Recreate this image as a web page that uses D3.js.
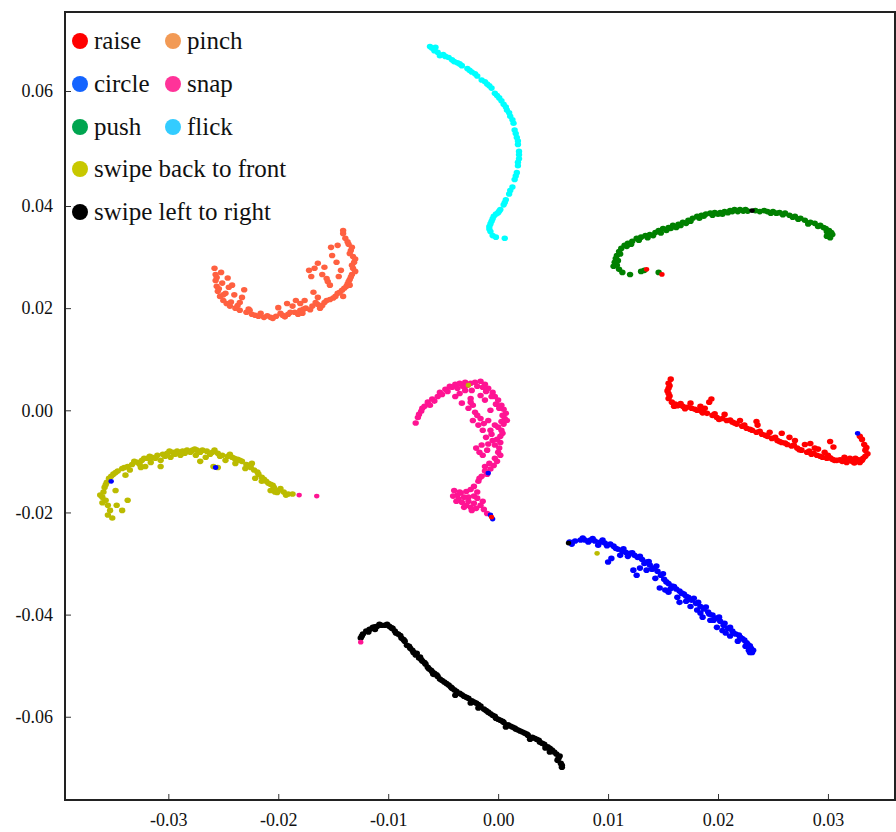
<!DOCTYPE html>
<html><head><meta charset="utf-8">
<script src="https://cdn.jsdelivr.net/npm/d3@7"></script>
<style>body{margin:0;background:#fff}svg{display:block}</style>
</head><body><svg id="c" width="896" height="832"></svg>
<script>
const xTicks = [-0.03,-0.02,-0.01,0.00,0.01,0.02,0.03];
const yTicks = [0.06,0.04,0.02,0.00,-0.02,-0.04,-0.06];
const legendNames = ["raise","pinch","circle","snap","push","flick","swipe back to front","swipe left to right"];
const legendColors = ["#ff0000","#f29a55","#1464ff","#ff3399","#00a550","#33ccff","#c8c800","#000000"];
const pointColors = ["#ff0000","#ff6040","#0000ff","#ff1493","#008000","#00ffff","#bbbb00","#000000"];

const raise = [[0.0157,0.0061],[0.0155,0.0053],[0.0155,0.0043],[0.0155,0.0033],[0.0155,0.0023],[0.0158,0.0016],[0.0161,0.0012],[0.0165,0.0010],[0.0168,0.0008],[0.0172,0.0006],[0.0176,0.0004],[0.0181,0.0000],[0.0185,-0.0002],[0.0190,-0.0006],[0.0195,-0.0010],[0.0199,-0.0014],[0.0204,-0.0016],[0.0208,-0.0020],[0.0213,-0.0023],[0.0217,-0.0027],[0.0222,-0.0031],[0.0226,-0.0035],[0.0231,-0.0039],[0.0235,-0.0043],[0.0240,-0.0047],[0.0245,-0.0051],[0.0249,-0.0055],[0.0254,-0.0059],[0.0258,-0.0063],[0.0263,-0.0067],[0.0267,-0.0070],[0.0272,-0.0074],[0.0276,-0.0078],[0.0281,-0.0082],[0.0285,-0.0086],[0.0290,-0.0088],[0.0295,-0.0092],[0.0299,-0.0094],[0.0304,-0.0096],[0.0308,-0.0098],[0.0313,-0.0100],[0.0317,-0.0102],[0.0322,-0.0100],[0.0326,-0.0100],[0.0331,-0.0098],[0.0334,-0.0090],[0.0334,-0.0078],[0.0333,-0.0067],[0.0331,-0.0057],[0.0329,-0.0051],
[0.0175,0.0014],[0.0184,0.0008],[0.0192,0.0016],[0.0194,0.0022],[0.0188,0.0004],[0.0206,-0.0008],[0.0220,-0.0020],[0.0235,-0.0022],[0.0236,-0.0029],[0.0247,-0.0043],[0.0258,-0.0045],[0.0265,-0.0053],[0.0270,-0.0059],[0.0279,-0.0067],[0.0284,-0.0065],[0.0288,-0.0074],[0.0291,-0.0076],[0.0297,-0.0082],[0.0302,-0.0061],[0.0305,-0.0072],[0.0300,-0.0088],[0.0315,-0.0092],[0.0320,-0.0094],[0.0325,-0.0094],[0.0329,-0.0102],
[0.0160,0.0008],[0.0170,0.0003],[0.0179,0.0002],[0.0186,-0.0005],[0.0197,-0.0007],[0.0201,-0.0018],[0.0211,-0.0019],[0.0215,-0.0025],[0.0224,-0.0029],[0.0229,-0.0037],[0.0238,-0.0041],[0.0243,-0.0049],[0.0252,-0.0053],[0.0256,-0.0061],[0.0261,-0.0064],[0.0269,-0.0068],[0.0274,-0.0077],[0.0283,-0.0080],[0.0287,-0.0084],[0.0293,-0.0090],[0.0302,-0.0093],[0.0306,-0.0098],[0.0311,-0.0097],[0.0318,-0.0099],[0.0324,-0.0103],[0.0328,-0.0097],[0.0332,-0.0094],[0.0336,-0.0085],[0.0335,-0.0073],[0.0156,0.0048],[0.0154,0.0038],[0.0156,0.0028],[0.0163,0.0009],[0.0166,0.0013]];

const pinch = [[-0.0258,0.0278],[-0.0257,0.0266],[-0.0257,0.0254],[-0.0256,0.0243],[-0.0255,0.0233],[-0.0253,0.0223],[-0.0250,0.0215],[-0.0247,0.0209],[-0.0244,0.0204],[-0.0239,0.0200],[-0.0235,0.0196],[-0.0229,0.0192],[-0.0224,0.0188],[-0.0218,0.0184],[-0.0213,0.0182],[-0.0207,0.0182],[-0.0202,0.0184],[-0.0196,0.0186],[-0.0191,0.0188],[-0.0185,0.0192],[-0.0180,0.0196],[-0.0175,0.0200],[-0.0169,0.0204],[-0.0164,0.0207],[-0.0158,0.0211],[-0.0153,0.0217],[-0.0148,0.0223],[-0.0144,0.0231],[-0.0140,0.0239],[-0.0137,0.0247],[-0.0135,0.0256],[-0.0133,0.0266],[-0.0132,0.0278],[-0.0131,0.0290],[-0.0132,0.0301],[-0.0134,0.0313],[-0.0136,0.0325],[-0.0139,0.0337],[-0.0141,0.0346],
[-0.0251,0.0249],[-0.0245,0.0241],[-0.0242,0.0245],[-0.0248,0.0229],[-0.0235,0.0211],[-0.0233,0.0221],[-0.0216,0.0190],[-0.0187,0.0204],[-0.0184,0.0215],[-0.0180,0.0209],[-0.0168,0.0231],[-0.0164,0.0221],[-0.0155,0.0252],[-0.0153,0.0245],[-0.0156,0.0258],[-0.0145,0.0262],[-0.0143,0.0274],[-0.0147,0.0290],[-0.0151,0.0303],[-0.0152,0.0319],[-0.0146,0.0323],[-0.0164,0.0288],[-0.0167,0.0278],[-0.0172,0.0274],[-0.0227,0.0198],[-0.0198,0.0190],[-0.0178,0.0190],[-0.0162,0.0200],[-0.0141,0.0223],[-0.0135,0.0245],
[-0.0256,0.0260],[-0.0254,0.0238],[-0.0250,0.0226],[-0.0243,0.0212],[-0.0237,0.0205],[-0.0226,0.0196],[-0.0221,0.0186],[-0.0210,0.0185],[-0.0205,0.0180],[-0.0194,0.0183],[-0.0189,0.0192],[-0.0182,0.0188],[-0.0177,0.0198],[-0.0171,0.0197],[-0.0166,0.0211],[-0.0160,0.0205],[-0.0156,0.0215],[-0.0150,0.0220],[-0.0146,0.0229],[-0.0142,0.0235],[-0.0138,0.0243],[-0.0136,0.0252],[-0.0134,0.0261],[-0.0130,0.0272],[-0.0133,0.0284],[-0.0130,0.0296],[-0.0135,0.0307],[-0.0133,0.0319],[-0.0137,0.0330],[-0.0141,0.0352],[-0.0160,0.0266],[-0.0158,0.0280],[-0.0170,0.0262],[-0.0176,0.0215],[-0.0192,0.0209],[-0.0200,0.0201],[-0.0231,0.0236],[-0.0240,0.0226],[-0.0246,0.0259],[-0.0252,0.0270]];

const circle = [[0.0065,-0.0258],[0.0070,-0.0256],[0.0075,-0.0254],[0.0079,-0.0254],[0.0084,-0.0254],[0.0088,-0.0256],[0.0093,-0.0258],[0.0097,-0.0260],[0.0102,-0.0262],[0.0105,-0.0266],[0.0109,-0.0272],[0.0113,-0.0276],[0.0116,-0.0278],[0.0120,-0.0280],[0.0124,-0.0284],[0.0127,-0.0288],[0.0131,-0.0292],[0.0135,-0.0297],[0.0138,-0.0303],[0.0142,-0.0309],[0.0145,-0.0315],[0.0148,-0.0323],[0.0151,-0.0331],[0.0155,-0.0339],[0.0158,-0.0344],[0.0162,-0.0350],[0.0165,-0.0354],[0.0169,-0.0360],[0.0173,-0.0366],[0.0176,-0.0372],[0.0180,-0.0378],[0.0184,-0.0384],[0.0187,-0.0389],[0.0191,-0.0395],[0.0195,-0.0401],[0.0198,-0.0407],[0.0202,-0.0413],[0.0205,-0.0421],[0.0209,-0.0427],[0.0213,-0.0432],[0.0216,-0.0438],[0.0220,-0.0444],[0.0224,-0.0450],[0.0227,-0.0458],[0.0230,-0.0466],[0.0231,-0.0474],[0.0228,-0.0470],[0.0225,-0.0462],
[0.0100,-0.0297],[0.0103,-0.0290],[0.0123,-0.0313],[0.0126,-0.0323],[0.0129,-0.0309],[0.0143,-0.0329],[0.0147,-0.0348],[0.0152,-0.0352],[0.0163,-0.0366],[0.0165,-0.0376],[0.0171,-0.0374],[0.0181,-0.0391],[0.0186,-0.0405],[0.0193,-0.0411],[0.0199,-0.0425],[0.0204,-0.0431],[0.0211,-0.0442],[0.0218,-0.0452],[0.0111,-0.0284],[0.0091,-0.0264],[0.0135,-0.0313],[0.0155,-0.0356],[0.0175,-0.0384],[0.0184,-0.0397],[0.0207,-0.0436],
[0.0067,-0.0262],[0.0077,-0.0250],[0.0082,-0.0258],[0.0086,-0.0251],[0.0095,-0.0254],[0.0099,-0.0265],[0.0107,-0.0270],[0.0114,-0.0271],[0.0118,-0.0286],[0.0122,-0.0279],[0.0129,-0.0286],[0.0133,-0.0300],[0.0137,-0.0296],[0.0140,-0.0311],[0.0144,-0.0305],[0.0150,-0.0320],[0.0153,-0.0336],[0.0157,-0.0349],[0.0160,-0.0345],[0.0167,-0.0358],[0.0171,-0.0364],[0.0178,-0.0368],[0.0182,-0.0376],[0.0189,-0.0385],[0.0192,-0.0399],[0.0196,-0.0411],[0.0201,-0.0405],[0.0206,-0.0417],[0.0211,-0.0425],[0.0214,-0.0436],[0.0219,-0.0440],[0.0222,-0.0447],[0.0226,-0.0455],[0.0229,-0.0461],[0.0232,-0.0470],[0.0229,-0.0474]];

const snap = [[-0.0075,-0.0025],[-0.0073,-0.0014],[-0.0070,-0.0002],[-0.0067,0.0008],[-0.0064,0.0016],[-0.0060,0.0022],[-0.0055,0.0027],[-0.0053,0.0035],[-0.0048,0.0041],[-0.0044,0.0047],[-0.0039,0.0051],[-0.0035,0.0053],[-0.0030,0.0055],[-0.0025,0.0053],[-0.0021,0.0055],[-0.0016,0.0057],[-0.0012,0.0051],[-0.0009,0.0043],[-0.0005,0.0035],[-0.0003,0.0027],[0.0000,0.0020],[0.0003,0.0010],[0.0005,0.0002],[0.0007,-0.0006],[0.0006,-0.0016],[0.0005,-0.0027],[0.0003,-0.0039],[0.0002,-0.0051],[0.0002,-0.0063],[0.0001,-0.0074],[0.0002,-0.0088],[-0.0001,-0.0100],[-0.0004,-0.0108],[-0.0007,-0.0115],[-0.0012,-0.0119],
[-0.0039,0.0027],[-0.0035,0.0033],[-0.0030,0.0039],[-0.0025,0.0023],[-0.0023,0.0010],[-0.0027,0.0004],[-0.0021,-0.0004],[-0.0016,-0.0016],[-0.0018,-0.0029],[-0.0014,-0.0039],[-0.0009,-0.0020],[-0.0007,-0.0039],[-0.0005,-0.0059],[-0.0011,-0.0053],[-0.0015,-0.0068],[-0.0010,-0.0078],[-0.0014,-0.0088],[-0.0020,-0.0074],[-0.0025,0.0016],[-0.0033,0.0014],[-0.0012,0.0020],[-0.0007,0.0000],[-0.0003,-0.0029],[-0.0016,0.0029],[-0.0024,0.0039],
[-0.0015,-0.0129],[-0.0018,-0.0139],[-0.0022,-0.0149],[-0.0025,-0.0155],[-0.0029,-0.0159],[-0.0034,-0.0162],[-0.0037,-0.0166],[-0.0040,-0.0157],[-0.0036,-0.0174],[-0.0033,-0.0180],[-0.0029,-0.0186],[-0.0025,-0.0190],[-0.0022,-0.0182],[-0.0019,-0.0172],[-0.0024,-0.0196],[-0.0027,-0.0170],[-0.0031,-0.0170],[-0.0016,-0.0186],[-0.0013,-0.0194],[-0.0010,-0.0202],
[-0.0072,-0.0008],[-0.0069,0.0004],[-0.0062,0.0010],[-0.0058,0.0018],[-0.0051,0.0031],[-0.0046,0.0037],[-0.0042,0.0045],[-0.0037,0.0043],[-0.0032,0.0047],[-0.0028,0.0049],[-0.0019,0.0047],[-0.0014,0.0045],[-0.0011,0.0037],[-0.0006,0.0027],[-0.0002,0.0012],[0.0001,0.0004],[0.0004,-0.0010],[0.0008,-0.0020],[0.0003,-0.0022],[0.0000,-0.0033],[0.0004,-0.0045],[-0.0001,-0.0057],[-0.0003,-0.0068],[0.0000,-0.0082],[-0.0003,-0.0094],[-0.0008,-0.0104],[-0.0012,-0.0110],[-0.0019,-0.0010],[-0.0023,-0.0020],[-0.0013,-0.0026],[-0.0006,-0.0047],[-0.0009,-0.0066],[-0.0017,-0.0082],[-0.0019,-0.0160],[-0.0027,-0.0178],[-0.0031,-0.0190],[-0.0035,-0.0160],[-0.0038,-0.0178],[-0.0022,-0.0168],[-0.0020,-0.0192],[-0.0014,-0.0178],[-0.0017,-0.0133],[-0.0010,-0.0125],[-0.0041,-0.0168]];

const push = [[0.0106,0.0290],[0.0107,0.0297],[0.0108,0.0303],[0.0110,0.0311],[0.0112,0.0317],[0.0115,0.0323],[0.0118,0.0327],[0.0122,0.0331],[0.0126,0.0337],[0.0130,0.0339],[0.0134,0.0342],[0.0138,0.0344],[0.0143,0.0348],[0.0146,0.0352],[0.0150,0.0356],[0.0155,0.0358],[0.0159,0.0362],[0.0164,0.0364],[0.0168,0.0368],[0.0173,0.0372],[0.0177,0.0376],[0.0181,0.0380],[0.0185,0.0382],[0.0189,0.0384],[0.0193,0.0386],[0.0197,0.0387],[0.0202,0.0387],[0.0206,0.0389],[0.0211,0.0391],[0.0215,0.0393],[0.0220,0.0393],[0.0225,0.0393],[0.0234,0.0391],[0.0238,0.0389],[0.0245,0.0389],[0.0250,0.0389],[0.0256,0.0387],[0.0261,0.0386],[0.0265,0.0382],[0.0270,0.0380],[0.0275,0.0376],[0.0279,0.0372],[0.0284,0.0368],[0.0288,0.0366],[0.0293,0.0362],[0.0298,0.0356],[0.0301,0.0352],[0.0303,0.0348],[0.0300,0.0346],[0.0302,0.0342],
[0.0108,0.0284],[0.0110,0.0276],[0.0113,0.0270],[0.0120,0.0266],[0.0130,0.0272],[0.0133,0.0274],[0.0146,0.0270],
[0.0105,0.0282],[0.0109,0.0293],[0.0111,0.0306],[0.0117,0.0321],[0.0121,0.0325],[0.0128,0.0333],[0.0136,0.0338],[0.0141,0.0342],[0.0148,0.0347],[0.0153,0.0352],[0.0157,0.0356],[0.0162,0.0358],[0.0166,0.0362],[0.0171,0.0366],[0.0175,0.0370],[0.0183,0.0376],[0.0187,0.0380],[0.0195,0.0382],[0.0200,0.0384],[0.0204,0.0384],[0.0209,0.0387],[0.0213,0.0389],[0.0218,0.0389],[0.0223,0.0390],[0.0227,0.0390],[0.0242,0.0391],[0.0248,0.0386],[0.0253,0.0386],[0.0259,0.0383],[0.0268,0.0378],[0.0273,0.0374],[0.0282,0.0365],[0.0291,0.0360],[0.0296,0.0358],[0.0299,0.0350],[0.0304,0.0344],[0.0302,0.0338],[0.0299,0.0341]];

const flick = [[-0.0060,0.0674],[-0.0058,0.0670],[-0.0055,0.0667],[-0.0050,0.0663],[-0.0045,0.0658],[-0.0042,0.0654],[-0.0037,0.0649],[-0.0033,0.0644],[-0.0028,0.0639],[-0.0024,0.0633],[-0.0019,0.0626],[-0.0015,0.0619],[-0.0010,0.0612],[-0.0006,0.0605],[-0.0003,0.0596],[0.0001,0.0588],[0.0005,0.0577],[0.0008,0.0567],[0.0011,0.0556],[0.0014,0.0544],[0.0015,0.0532],[0.0017,0.0519],[0.0018,0.0507],[0.0019,0.0495],[0.0019,0.0482],[0.0018,0.0470],[0.0017,0.0458],[0.0015,0.0446],[0.0013,0.0433],[0.0010,0.0421],[0.0007,0.0411],[0.0005,0.0402],[0.0002,0.0393],[0.0000,0.0387],[-0.0004,0.0380],[-0.0006,0.0370],[-0.0008,0.0360],[-0.0007,0.0350],[-0.0005,0.0342],[-0.0002,0.0339],[0.0006,0.0337],[-0.0062,0.0677],[-0.0057,0.0676],
[-0.0053,0.0661],[-0.0048,0.0660],[-0.0040,0.0651],[-0.0035,0.0647],[-0.0026,0.0636],[-0.0021,0.0630],[-0.0012,0.0616],[-0.0008,0.0609],[-0.0001,0.0592],[0.0003,0.0583],[0.0007,0.0572],[0.0010,0.0562],[0.0013,0.0550],[0.0016,0.0526],[0.0018,0.0513],[0.0019,0.0489],[0.0018,0.0476],[0.0016,0.0452],[0.0011,0.0427],[0.0006,0.0406],[0.0001,0.0390],[-0.0002,0.0384],[-0.0005,0.0375],[-0.0007,0.0365],[-0.0008,0.0355],[-0.0058,0.0673]];

const swipeBackFront = [[-0.0360,-0.0170],[-0.0359,-0.0160],[-0.0358,-0.0151],[-0.0356,-0.0141],[-0.0354,-0.0133],[-0.0350,-0.0125],[-0.0346,-0.0119],[-0.0342,-0.0114],[-0.0337,-0.0110],[-0.0333,-0.0106],[-0.0328,-0.0102],[-0.0324,-0.0098],[-0.0319,-0.0094],[-0.0315,-0.0092],[-0.0310,-0.0088],[-0.0305,-0.0086],[-0.0301,-0.0084],[-0.0296,-0.0082],[-0.0292,-0.0080],[-0.0287,-0.0080],[-0.0283,-0.0078],[-0.0278,-0.0078],[-0.0274,-0.0078],[-0.0269,-0.0078],[-0.0265,-0.0080],[-0.0260,-0.0082],[-0.0255,-0.0084],[-0.0251,-0.0088],[-0.0246,-0.0090],[-0.0242,-0.0092],[-0.0237,-0.0096],[-0.0233,-0.0100],[-0.0229,-0.0106],[-0.0225,-0.0112],[-0.0222,-0.0117],[-0.0218,-0.0125],[-0.0215,-0.0131],[-0.0211,-0.0139],[-0.0207,-0.0145],[-0.0204,-0.0151],[-0.0200,-0.0157],[-0.0195,-0.0160],[-0.0191,-0.0164],[-0.0187,-0.0164],
[-0.0357,-0.0176],[-0.0355,-0.0186],[-0.0353,-0.0196],[-0.0355,-0.0205],[-0.0351,-0.0211],[-0.0347,-0.0186],[-0.0342,-0.0196],[-0.0337,-0.0176],[-0.0348,-0.0157],[-0.0339,-0.0127],[-0.0335,-0.0117],[-0.0321,-0.0110],[-0.0316,-0.0102],[-0.0307,-0.0098],[-0.0298,-0.0092],[-0.0289,-0.0088],[-0.0275,-0.0088],[-0.0266,-0.0092],[-0.0259,-0.0110],[-0.0255,-0.0112],[-0.0248,-0.0098],[-0.0239,-0.0104],[-0.0230,-0.0114],[-0.0221,-0.0133],[-0.0215,-0.0139],[-0.0207,-0.0157],[-0.0203,-0.0160],[-0.0198,-0.0153],[-0.0307,-0.0110],[-0.0325,-0.0112],[-0.0271,-0.0100],
[-0.0357,-0.0146],[-0.0352,-0.0129],[-0.0348,-0.0122],[-0.0340,-0.0112],[-0.0331,-0.0100],[-0.0326,-0.0106],[-0.0322,-0.0094],[-0.0317,-0.0090],[-0.0312,-0.0094],[-0.0303,-0.0090],[-0.0299,-0.0080],[-0.0294,-0.0086],[-0.0285,-0.0084],[-0.0280,-0.0082],[-0.0276,-0.0076],[-0.0271,-0.0082],[-0.0262,-0.0086],[-0.0258,-0.0078],[-0.0253,-0.0090],[-0.0244,-0.0086],[-0.0240,-0.0094],[-0.0235,-0.0098],[-0.0227,-0.0108],[-0.0224,-0.0104],[-0.0219,-0.0121],[-0.0213,-0.0135],[-0.0209,-0.0143],[-0.0205,-0.0147],[-0.0201,-0.0161],[-0.0193,-0.0166],[-0.0362,-0.0166],[-0.0360,-0.0181]];

const swipeLeftRight = [[-0.0125,-0.0446],[-0.0123,-0.0438],[-0.0120,-0.0432],[-0.0117,-0.0429],[-0.0114,-0.0425],[-0.0110,-0.0423],[-0.0106,-0.0421],[-0.0103,-0.0421],[-0.0099,-0.0423],[-0.0096,-0.0427],[-0.0094,-0.0432],[-0.0091,-0.0438],[-0.0088,-0.0446],[-0.0085,-0.0452],[-0.0083,-0.0460],[-0.0080,-0.0466],[-0.0077,-0.0474],[-0.0075,-0.0479],[-0.0072,-0.0485],[-0.0069,-0.0491],[-0.0066,-0.0497],[-0.0064,-0.0503],[-0.0061,-0.0509],[-0.0058,-0.0515],[-0.0055,-0.0521],[-0.0053,-0.0526],[-0.0049,-0.0532],[-0.0045,-0.0538],[-0.0042,-0.0544],[-0.0038,-0.0550],[-0.0035,-0.0554],[-0.0031,-0.0560],[-0.0027,-0.0564],[-0.0024,-0.0569],[-0.0020,-0.0573],[-0.0016,-0.0579],[-0.0013,-0.0585],[-0.0009,-0.0591],[-0.0005,-0.0597],[-0.0002,-0.0603],[0.0002,-0.0607],[0.0005,-0.0611],[0.0009,-0.0616],[0.0013,-0.0620],[0.0016,-0.0624],[0.0020,-0.0628],[0.0024,-0.0632],[0.0027,-0.0636],[0.0031,-0.0640],[0.0035,-0.0644],[0.0038,-0.0650],[0.0042,-0.0654],[0.0045,-0.0659],[0.0049,-0.0665],[0.0053,-0.0673],[0.0055,-0.0681],[0.0057,-0.0691],[0.0058,-0.0699],
[-0.0039,-0.0558],[-0.0025,-0.0573],[-0.0018,-0.0583],[-0.0003,-0.0599],[0.0007,-0.0620],[0.0029,-0.0644],[0.0043,-0.0661],[0.0054,-0.0685],[-0.0071,-0.0483],[-0.0059,-0.0517],[-0.0112,-0.0429],[0.0047,-0.0669],
[-0.0124,-0.0442],[-0.0118,-0.0434],[-0.0112,-0.0424],[-0.0108,-0.0419],[-0.0101,-0.0419],[-0.0097,-0.0426],[-0.0093,-0.0436],[-0.0089,-0.0441],[-0.0086,-0.0449],[-0.0081,-0.0462],[-0.0078,-0.0470],[-0.0074,-0.0476],[-0.0070,-0.0488],[-0.0067,-0.0494],[-0.0063,-0.0506],[-0.0060,-0.0512],[-0.0056,-0.0518],[-0.0051,-0.0529],[-0.0047,-0.0535],[-0.0043,-0.0542],[-0.0040,-0.0547],[-0.0033,-0.0557],[-0.0029,-0.0562],[-0.0022,-0.0571],[-0.0018,-0.0576],[-0.0011,-0.0588],[-0.0007,-0.0594],[0.0000,-0.0605],[0.0004,-0.0609],[0.0011,-0.0618],[0.0015,-0.0622],[0.0018,-0.0626],[0.0022,-0.0630],[0.0026,-0.0634],[0.0033,-0.0642],[0.0037,-0.0646],[0.0040,-0.0652],[0.0047,-0.0662],[0.0051,-0.0669],[0.0056,-0.0677],[0.0058,-0.0695]];

// misassigned points: [x, y, class index]
const strays = [[0.0135,0.0276,0],[0.0149,0.0266,0],[0.0231,0.0391,7],[-0.0007,-0.0205,2],[-0.0005,-0.0213,2],[-0.0009,-0.0123,2],[-0.0006,-0.0209,0],[-0.0027,0.0049,6],[0.0327,-0.0045,2],[-0.0352,-0.0139,2],[-0.0257,-0.0112,2],[-0.0181,-0.0166,3],[-0.0165,-0.0168,3],[0.0064,-0.0260,7],[0.0090,-0.0280,6],[-0.0125,-0.0454,3]];

const series = [raise, pinch, circle, snap, push, flick, swipeBackFront, swipeLeftRight];

const svg = d3.select("#c");
const L = 65, R = 895, T = 12, B = 800;
const x = d3.scaleLinear().domain([-0.0394, 0.0361]).range([L, R]);
const y = d3.scaleLinear().domain([-0.0763, 0.04, 0.06, 0.0737]).range([B, 206, 91, T]);

const g = svg.append("g");
series.forEach((pts, i) => {
  g.selectAll(null).data(pts).enter().append("ellipse")
    .attr("cx", d => x(d[0])).attr("cy", d => y(d[1]))
    .attr("rx", 3.2).attr("ry", 2.8)
    .attr("fill", pointColors[i]);
});
g.selectAll(null).data(strays).enter().append("ellipse")
  .attr("cx", d => x(d[0])).attr("cy", d => y(d[1]))
  .attr("rx", 2.7).attr("ry", 2.4)
  .attr("fill", d => pointColors[d[2]]);

// axes
const font = "Liberation Serif, Times New Roman, serif";
const fmt = d => d3.format(".2f")(d).replace("\u2212", "-");
const ax = svg.append("g").attr("transform", `translate(0,${B})`)
  .call(d3.axisBottom(x).tickValues(xTicks).tickFormat(fmt).tickSizeInner(-6).tickSizeOuter(0).tickPadding(12));
const ay = svg.append("g").attr("transform", `translate(${L},0)`)
  .call(d3.axisLeft(y).tickValues(yTicks).tickFormat(fmt).tickSizeInner(-6).tickSizeOuter(0).tickPadding(12));
[ax, ay].forEach(a => {
  a.attr("font-family", font);
  a.select(".domain").remove();
  a.selectAll("line").attr("stroke", "#333").attr("stroke-width", 1);
  a.selectAll("text").style("font-family", font).attr("font-size", 18).attr("fill", "#111");
});
ay.selectAll("text").attr("dy", "0.32em");
ax.selectAll("text").attr("dy", "0.75em");

svg.append("rect").attr("x", L).attr("y", T).attr("width", R - L).attr("height", B - T)
  .attr("fill", "none").attr("stroke", "#222").attr("stroke-width", 2);

// legend
const legPos = [[80,41],[173,41],[80,84],[173,84],[80,127],[173,127],[80,169],[80,212]];
const leg = svg.append("g");
legendNames.forEach((n, i) => {
  const [cx, cy] = legPos[i];
  leg.append("circle").attr("cx", cx).attr("cy", cy).attr("r", 8).attr("fill", legendColors[i]);
  leg.append("text").attr("x", cx + 14).attr("y", cy).attr("dy", "0.33em")
    .style("font-family", font).attr("font-size", 25).attr("fill", "#111").text(n);
});
</script>
</body></html>
